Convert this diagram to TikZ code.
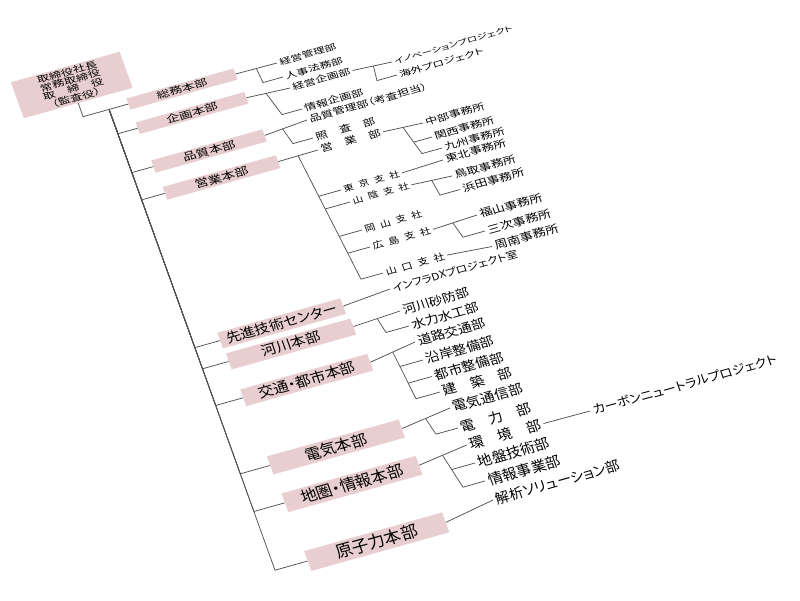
\documentclass[tikz,border=0pt]{standalone}
\usepackage{fontspec}
\setmainfont{Noto Sans CJK JP}
\newfontfamily\pfont[RawFeature=+palt]{Noto Sans CJK JP}
\usetikzlibrary{calc}
\definecolor{boxpink}{RGB}{232,206,209}
\definecolor{linegray}{RGB}{80,80,80}
\newcommand\hsq{\hspace{0.5em}}
\begin{document}
\begin{tikzpicture}[x=1pt,y=-1pt,
  declare function={
    U(\x,\y)=(\x-0.36*\y)/1.1008;
    V(\x,\y)=(\y+0.28*\x)/1.1008;
    KX(\y)=1+(\y-89)*0.00064;
    KY(\y)=0.7*(1+(\y-89)*0.00178);
  },
  P/.style 2 args={at={({U(#1,#2)},{V(#1,#2)})},xscale={KX(#2)},yscale={KY(#2)}},
  hq/.style={fill=boxpink,minimum width=107pt,minimum height=15.7pt,inner sep=0pt,font=\fontsize{12.5}{13}\selectfont},
  tx/.style={anchor=west,inner sep=0pt,outer sep=2.5pt,font=\fontsize{11.5}{12}\selectfont},
  brn/.style={tx,font=\fontsize{9.5}{10}\selectfont},
  ln/.style={draw=linegray,line width=0.7pt},
]
\fill[white] (0,0) rectangle (800,600);
\useasboundingbox (0,0) rectangle (800,600);
\begin{scope}[transform canvas={cm={1,0.28,-0.36,1,(0,0)}}]
% boxes
\node[hq,P={71.7}{85},minimum width=109pt,minimum height=51.8pt,align=center,font=\fontsize{12}{11}\selectfont] (top) {取締役社長\\常務取締役\\取　締　役\\{\pfont（監査役）}};
\node[hq,P={182}{89}] (somu) {総務本部};
\node[hq,P={192}{113}] (kikaku) {企画本部};
\node[hq,P={209}{151}] (hinshitsu) {品質本部};
\node[hq,P={221.5}{177.5}] (eigyo) {営業本部};
\node[hq,P={281.7}{323.3}] (senshin) {\pfont 先進技術センター};
\node[hq,P={291}{344}] (kasen) {河川本部};
\node[hq,P={306.7}{380}] (kotsu) {\pfont 交通・都市本部};
\node[hq,P={336}{447}] (denki) {電気本部};
\node[hq,P={352}{484}] (chizu) {\pfont 地圏・情報本部};
\node[hq,P={376.7}{541.7}] (genshi) {原子力本部};
% texts
\node[tx,P={277}{63}] (kanri) {経営管理部};
\node[tx,P={283}{77}] (jinji) {人事法務部};
\node[tx,P={290}{88}] (kkikaku) {経営企画部};
\node[tx,P={302}{109}] (jkikaku) {情報企画部};
\node[tx,P={392}{62},font=\fontsize{10.4}{11}\selectfont] (innov) {\pfont イノベーションプロジェクト};
\node[tx,P={397}{75}] (kaigai) {\pfont 海外プロジェクト};
\node[tx,P={307}{120}] (hinkan) {\pfont 品質管理部（考査担当）};
\node[tx,P={313}{138}] (shosa) {照　査　部};
\node[tx,P={318}{150}] (eigyobu) {営　業　部};
\node[tx,P={423}{123}] (chubu) {中部事務所};
\node[tx,P={432}{137}] (kansai) {関西事務所};
\node[tx,P={442}{148}] (kyushu) {九州事務所};
\node[brn,P={341}{190}] (tokyo) {東\hsq 京\hsq 支\hsq 社};
\node[tx,P={443}{160}] (tohoku) {東北事務所};
\node[brn,P={350}{202}] (sanin) {山\hsq 陰\hsq 支\hsq 社};
\node[tx,P={452}{176}] (tottori) {鳥取事務所};
\node[tx,P={460}{189.5}] (hamada) {浜田事務所};
\node[brn,P={362}{230}] (okayama) {岡\hsq 山\hsq 支\hsq 社};
\node[brn,P={370}{247}] (hiroshima) {広\hsq 島\hsq 支\hsq 社};
\node[tx,P={477}{215}] (fukuyama) {福山事務所};
\node[tx,P={485}{231}] (miyoshi) {三次事務所};
\node[brn,P={383}{273}] (yamaguchi) {山\hsq 口\hsq 支\hsq 社};
\node[tx,P={492}{246.5}] (shunan) {周南事務所};
\node[tx,P={390}{289},font=\fontsize{10}{11}\selectfont] (infradx) {\pfont インフラDXプロジェクト室};
\node[tx,P={400}{311}] (sabo) {河川砂防部};
\node[tx,P={409}{326}] (suiryoku) {水力水工部};
\node[tx,P={415}{342}] (doro) {道路交通部};
\node[tx,P={423}{360}] (engan) {沿岸整備部};
\node[tx,P={432}{376.5}] (toshi) {都市整備部};
\node[tx,P={440}{392}] (kenchiku) {建　築　部};
\node[tx,P={450}{408}] (tsushin) {電気通信部};
\node[tx,P={458}{428}] (denryoku) {電　力　部};
\node[tx,P={466.7}{445}] (kankyo) {環　境　部};
\node[tx,P={475}{463}] (jiban) {地盤技術部};
\node[tx,P={485}{481}] (johojigyo) {情報事業部};
\node[tx,P={493}{500},font=\fontsize{10.8}{11}\selectfont] (kaiseki) {\pfont 解析ソリューション部};
\node[tx,P={590}{411},font=\fontsize{10.5}{11}\selectfont] (carbon) {\pfont カーボンニュートラルプロジェクト};
% main trunk
\draw[ln] (top.south) |- (somu.west);
\coordinate (t0) at ($(top.south |- somu.west)+(26,0)$);
\foreach \n in {kikaku,hinshitsu,eigyo,senshin,kasen,kotsu,denki,chizu,genshi}
  \draw[ln] (t0) |- (\n.west);
% groups: first child straight, sub-trunk to the last child, middle children by intersection
\draw[ln] (somu.east) -- (kanri.west);
\coordinate (k1) at ($(somu.east)!0.5!(kanri.west)$);
\coordinate (e1) at ($(jinji.west)+(-20,0)$);
\draw[ln] (k1) -- (e1) -- (jinji.west);
\draw[ln] (kikaku.east) -- (kkikaku.west);
\coordinate (k2) at ($(kikaku.east)!0.45!(kkikaku.west)$);
\coordinate (e2) at ($(jkikaku.west)+(-20,0)$);
\draw[ln] (k2) -- (e2) -- (jkikaku.west);
\draw[ln] (kkikaku.east) -- (innov.west);
\coordinate (k3) at ($(kkikaku.east)!0.53!(innov.west)$);
\coordinate (e3) at ($(kaigai.west)+(-20,0)$);
\draw[ln] (k3) -- (e3) -- (kaigai.west);
\draw[ln] (hinshitsu.east) -- (hinkan.west);
\coordinate (k4) at ($(hinshitsu.east)!0.42!(hinkan.west)$);
\coordinate (e4) at ($(shosa.west)+(-20,0)$);
\draw[ln] (k4) -- (e4) -- (shosa.west);
\draw[ln] (eigyo.east) -- (eigyobu.west);
\coordinate (k5) at ($(eigyo.east)!0.5!(eigyobu.west)$);
\coordinate (e5) at ($(yamaguchi.west)+(-22,0)$);
\draw[ln] (k5) -- (e5) -- (yamaguchi.west);
\foreach \n in {tokyo,sanin,okayama,hiroshima}
  \draw[ln] (intersection of k5--e5 and \n.west--\n.east) -- (\n.west);
\draw[ln] (eigyobu.east) -- (chubu.west);
\coordinate (k6) at ($(eigyobu.east)!0.5!(chubu.west)$);
\coordinate (e6) at ($(kyushu.west)+(-20,0)$);
\draw[ln] (k6) -- (e6) -- (kyushu.west);
\draw[ln] (intersection of k6--e6 and kansai.west--kansai.east) -- (kansai.west);
\draw[ln] (tokyo.east) -- (tohoku.west);
\draw[ln] (sanin.east) -- (tottori.west);
\coordinate (k7) at ($(sanin.east)!0.5!(tottori.west)$);
\coordinate (e7) at ($(hamada.west)+(-20,0)$);
\draw[ln] (k7) -- (e7) -- (hamada.west);
\draw[ln] (hiroshima.east) -- (fukuyama.west);
\coordinate (k8) at ($(hiroshima.east)!0.45!(fukuyama.west)$);
\coordinate (e8) at ($(miyoshi.west)+(-22,0)$);
\draw[ln] (k8) -- (e8) -- (miyoshi.west);
\draw[ln] (yamaguchi.east) -- (shunan.west);
\draw[ln] (senshin.east) -- (infradx.west);
\draw[ln] (kasen.east) -- (sabo.west);
\coordinate (k9) at ($(kasen.east)!0.51!(sabo.west)$);
\coordinate (e9) at ($(suiryoku.west)+(-23,0)$);
\draw[ln] (k9) -- (e9) -- (suiryoku.west);
\draw[ln] (kotsu.east) -- (doro.west);
\coordinate (k10) at ($(kotsu.east)!0.5!(doro.west)$);
\coordinate (e10) at ($(kenchiku.west)+(-24,0)$);
\draw[ln] (k10) -- (e10) -- (kenchiku.west);
\foreach \n in {engan,toshi}
  \draw[ln] (intersection of k10--e10 and \n.west--\n.east) -- (\n.west);
\draw[ln] (denki.east) -- (tsushin.west);
\coordinate (k11) at ($(denki.east)!0.49!(tsushin.west)$);
\coordinate (e11) at ($(denryoku.west)+(-22,0)$);
\draw[ln] (k11) -- (e11) -- (denryoku.west);
\draw[ln] (chizu.east) -- (kankyo.west);
\coordinate (k12) at ($(chizu.east)!0.49!(kankyo.west)$);
\coordinate (e12) at ($(johojigyo.west)+(-22,0)$);
\draw[ln] (k12) -- (e12) -- (johojigyo.west);
\draw[ln] (intersection of k12--e12 and jiban.west--jiban.east) -- (jiban.west);
\draw[ln] (genshi.east) -- (kaiseki.west);
\draw[ln] (kankyo.east) -- (carbon.west);
\end{scope}
\end{tikzpicture}
\end{document}
